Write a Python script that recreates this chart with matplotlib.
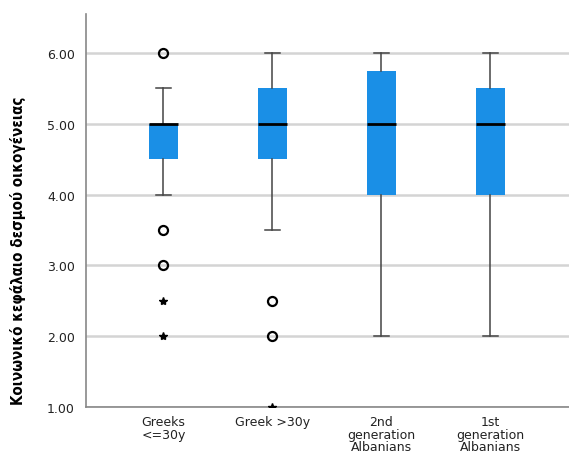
import matplotlib
matplotlib.use("Agg")
import matplotlib.pyplot as plt

# boxplot summary
groups = ["Greeks\n<=30y", "Greek >30y", "2nd\ngeneration\nAlbanians", "1st\ngeneration\nAlbanians"]
q1 = [4.5, 4.5, 4.0, 4.0]
med = [5.0, 5.0, 5.0, 5.0]
q3 = [5.0, 5.5, 5.75, 5.5]
wlo = [4.0, 3.5, 2.0, 2.0]
whi = [5.5, 6.0, 6.0, 6.0]
outliers = [[6.0, 3.5, 3.0], [2.5, 2.0], [], []]
extremes = [[2.5, 2.0], [1.0], [], []]

ylabel = "Κοινωνικό κεφάλαιο δεσμού οικογένειας"

fig = plt.figure(figsize=(5.69, 4.56), dpi=100)
ax = fig.add_axes([0.151, 0.105, 0.849, 0.862])

stats = []
for i in range(len(groups)):
    stats.append({"med": med[i], "q1": q1[i], "q3": q3[i],
                  "whislo": wlo[i], "whishi": whi[i], "fliers": outliers[i]})

pos = list(range(1, len(groups) + 1))
ax.bxp(stats, positions=pos, widths=0.26, patch_artist=True, showfliers=True,
       boxprops=dict(facecolor="#1a8fe6", edgecolor="none"),
       medianprops=dict(color="black", linewidth=2),
       whiskerprops=dict(color="#444444", linewidth=1.1),
       capprops=dict(color="#444444", linewidth=1.1),
       capwidths=0.14,
       flierprops=dict(marker="o", markerfacecolor="none", markeredgecolor="black",
                       markeredgewidth=1.6, markersize=6.5))

for i, ex in enumerate(extremes):
    if ex:
        ax.plot([pos[i]] * len(ex), ex, linestyle="none", marker="*",
                color="black", markersize=6, clip_on=True, zorder=5)

ax.set_xlim(0.29, 4.72)
ax.set_ylim(1.0, 6.55)
ax.set_yticks([1, 2, 3, 4, 5, 6])
ax.set_yticklabels(["%.2f" % v for v in [1, 2, 3, 4, 5, 6]])
ax.set_xticks(pos)
ax.set_xticklabels(groups, linespacing=0.95)
ax.tick_params(axis="both", length=0, labelsize=9, labelcolor="#222222")
ax.tick_params(axis="y", pad=8)
ax.tick_params(axis="x", pad=6)

ax.yaxis.grid(True, color="#d4d4d4", linewidth=1.8)
ax.set_axisbelow(True)
for s in ["top", "right"]:
    ax.spines[s].set_visible(False)
for s in ["left", "bottom"]:
    ax.spines[s].set_color("#888888")
    ax.spines[s].set_linewidth(1.2)

ax.set_ylabel(ylabel, fontsize=10.8, family="DejaVu Sans", fontstretch="condensed",
              fontweight="bold")
ax.yaxis.set_label_coords(-0.125, 0.4)

fig.savefig("out.png", dpi=100)
